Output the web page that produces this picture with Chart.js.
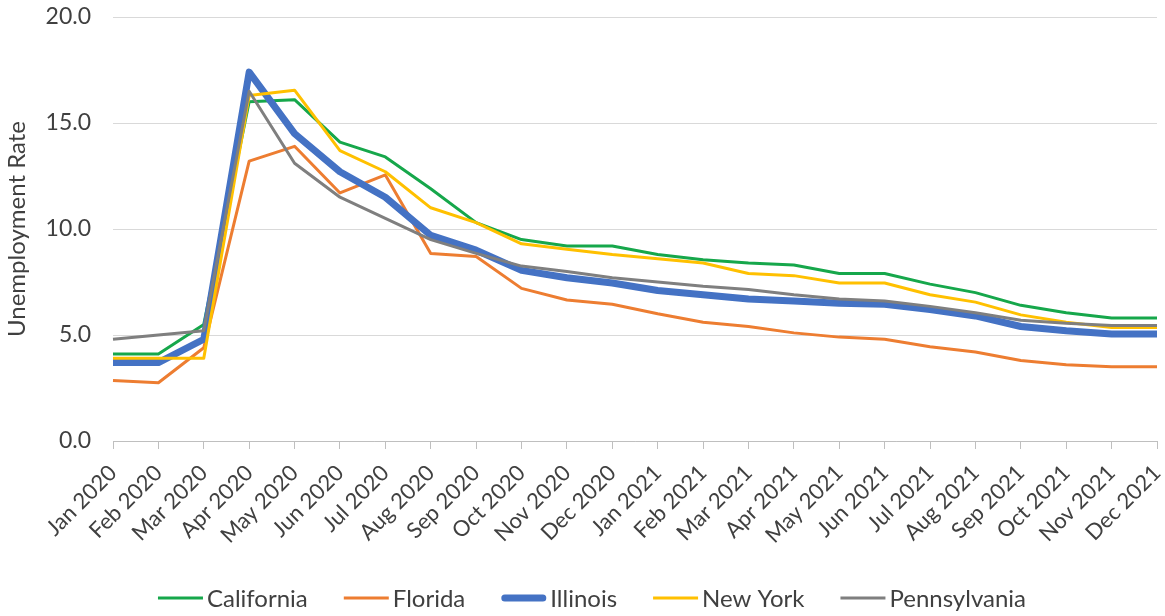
<!DOCTYPE html>
<html>
<head>
<meta charset="utf-8">
<title>Unemployment Rate by State, 2020–2021</title>
<script src="https://cdn.jsdelivr.net/npm/chart.js@4.4.1/dist/chart.umd.min.js"></script>
<style>
  html, body { margin: 0; padding: 0; background: #ffffff; }
  #wrap { width: 1165px; height: 616px; }
</style>
</head>
<body>
<div id="wrap"><canvas id="chart" width="1165" height="616"></canvas></div>
<script>
// Monthly categories
const months = [
  'Jan 2020', 'Feb 2020', 'Mar 2020', 'Apr 2020', 'May 2020', 'Jun 2020',
  'Jul 2020', 'Aug 2020', 'Sep 2020', 'Oct 2020', 'Nov 2020', 'Dec 2020',
  'Jan 2021', 'Feb 2021', 'Mar 2021', 'Apr 2021', 'May 2021', 'Jun 2021',
  'Jul 2021', 'Aug 2021', 'Sep 2021', 'Oct 2021', 'Nov 2021', 'Dec 2021'
];

// Unemployment rate (%) per state
const california = [4.1, 4.1, 5.5, 16.0, 16.1, 14.1, 13.4, 11.9, 10.3, 9.5, 9.2, 9.2,
                    8.8, 8.55, 8.4, 8.3, 7.9, 7.9, 7.4, 7.0, 6.4, 6.05, 5.8, 5.8];
const florida    = [2.85, 2.75, 4.4, 13.2, 13.9, 11.7, 12.55, 8.85, 8.7, 7.2, 6.65, 6.45,
                    6.0, 5.6, 5.4, 5.1, 4.9, 4.8, 4.45, 4.2, 3.8, 3.6, 3.5, 3.5];
const illinois   = [3.7, 3.7, 4.8, 17.4, 14.5, 12.7, 11.5, 9.7, 9.0, 8.05, 7.7, 7.45,
                    7.1, 6.9, 6.7, 6.6, 6.5, 6.45, 6.2, 5.9, 5.4, 5.2, 5.05, 5.05];
const newYork    = [3.9, 3.9, 3.9, 16.3, 16.55, 13.7, 12.7, 11.0, 10.3, 9.3, 9.05, 8.8,
                    8.6, 8.4, 7.9, 7.8, 7.45, 7.45, 6.9, 6.55, 5.95, 5.6, 5.35, 5.35];
const pennsylvania = [4.8, 5.0, 5.2, 16.5, 13.1, 11.5, 10.5, 9.5, 8.85, 8.25, 8.0, 7.7,
                    7.5, 7.3, 7.15, 6.9, 6.7, 6.6, 6.35, 6.05, 5.7, 5.55, 5.45, 5.45];

// Y axis ticks
const yTicks = [0, 5, 10, 15, 20];

const FONT = 'Lato';
const TEXT = '#404040';

function series(label, data, color, width, order) {
  return {
    label, data,
    borderColor: color,
    backgroundColor: color,
    borderWidth: width,
    borderJoinStyle: 'round',
    borderCapStyle: 'butt',
    pointRadius: 0,
    pointHoverRadius: 0,
    tension: 0,
    fill: false,
    order
  };
}

// Single-row legend at the bottom: line swatch, then label, items in dataset order
const bottomLegend = {
  id: 'bottomLegend',
  afterDraw(chart, args, opts) {
    const ctx = chart.ctx;
    const sets = chart.data.datasets;
    ctx.save();
    ctx.font = `${opts.size}px ${opts.family}`;
    const widths = sets.map(ds => opts.swatch + opts.gap + ctx.measureText(ds.label).width);
    const total = widths.reduce((a, b) => a + b, 0) + opts.spacing * (sets.length - 1);
    let x = opts.centerX - total / 2;
    const y = opts.y;
    sets.forEach((ds, i) => {
      const thick = ds.borderWidth > 4;
      const inset = thick ? ds.borderWidth / 2 : 0;
      ctx.beginPath();
      ctx.strokeStyle = ds.borderColor;
      ctx.lineWidth = ds.borderWidth;
      ctx.lineCap = thick ? 'round' : 'butt';
      ctx.moveTo(x + inset, y);
      ctx.lineTo(x + opts.swatch - inset, y);
      ctx.stroke();
      ctx.fillStyle = opts.color;
      ctx.textBaseline = 'middle';
      ctx.textAlign = 'left';
      ctx.fillText(ds.label, x + opts.swatch + opts.gap, y + 1);
      x += widths[i] + opts.spacing;
    });
    ctx.restore();
  }
};

new Chart(document.getElementById('chart'), {
  type: 'line',
  plugins: [bottomLegend],
  data: {
    labels: months,
    datasets: [
      series('California', california, '#16a74b', 3, 5),
      series('Florida', florida, '#ed7d31', 3, 4),
      series('Illinois', illinois, '#4472c4', 7, 3),
      series('New York', newYork, '#ffc000', 3, 2),
      series('Pennsylvania', pennsylvania, '#7f7f7f', 3, 1)
    ]
  },
  options: {
    responsive: false,
    animation: false,
    layout: { padding: { top: 0, right: 8, left: 0, bottom: 0 } },
    plugins: {
      tooltip: { enabled: false },
      legend: { display: false },
      bottomLegend: {
        family: FONT, size: 24, color: TEXT,
        swatch: 45, gap: 4, spacing: 36,
        centerX: 592, y: 598
      }
    },
    scales: {
      x: {
        type: 'category',
        offset: false,
        afterFit(scale) {
          scale.height = 175;
          scale.paddingLeft = 0;
          scale.paddingRight = 0;
        },
        grid: {
          display: true,
          drawOnChartArea: false,
          drawTicks: true,
          tickLength: 8,
          color: '#bfbfbf'
        },
        border: { display: true, color: '#bfbfbf', width: 1 },
        ticks: {
          color: TEXT,
          font: { family: FONT, size: 22 },
          maxRotation: 45,
          minRotation: 45,
          autoSkip: false,
          padding: 11
        }
      },
      y: {
        min: 0,
        max: 20,
        afterBuildTicks(scale) {
          scale.ticks = yTicks.map(v => ({ value: v }));
        },
        afterFit(scale) {
          scale.width = 113;
          scale.paddingTop = 17;
          scale.paddingBottom = 0;
        },
        grid: { color: '#d9d9d9', drawTicks: false, lineWidth: 1 },
        border: { display: false },
        ticks: {
          color: TEXT,
          font: { family: FONT, size: 23 },
          padding: 22,
          callback: v => Number(v).toFixed(1)
        },
        title: {
          display: true,
          text: 'Unemployment Rate',
          color: TEXT,
          font: { family: FONT, size: 24 },
          padding: { top: 3, bottom: 0 }
        }
      }
    }
  }
});
</script>
</body>
</html>
